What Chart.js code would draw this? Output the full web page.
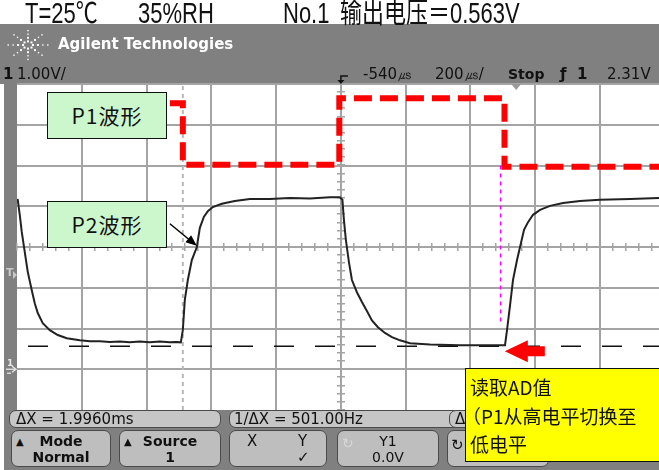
<!DOCTYPE html>
<html><head><meta charset="utf-8">
<script src="https://cdn.jsdelivr.net/npm/chart.js@4"></script>
<style>
html,body{margin:0;padding:0;overflow:hidden;background:#fff}
#wrap{position:relative;width:659px;height:470px;overflow:hidden}
canvas{position:absolute;left:0;top:0}
.t{position:absolute;white-space:nowrap}
.hdr{font-family:"Liberation Sans","Noto Sans CJK SC",sans-serif;font-size:22px;line-height:22px;color:#111;top:5px;transform:scaleY(1.3);transform-origin:0 18.6px}
.band{font-family:"DejaVu Sans",sans-serif;font-size:15px;line-height:16px;color:#111;top:66px}
.logo{font-family:"DejaVu Sans",sans-serif;font-weight:bold;font-size:15px;color:#fff;top:35px;left:58px}
.stat{position:absolute;top:410px;height:16px;background:#c6c6c6;border:1.5px solid #4a4a4a;border-radius:7px;font-family:"DejaVu Sans",sans-serif;font-size:15px;line-height:16px;color:#111;white-space:nowrap;overflow:hidden}
.btn{position:absolute;top:430px;height:35px;background:#bebebe;border:1.5px solid #4a4a4a;border-radius:7px;font-family:"DejaVu Sans",sans-serif;font-weight:bold;font-size:14px;line-height:16px;color:#111;text-align:center;white-space:nowrap;overflow:hidden}
.btn .l1{position:absolute;left:0;right:0;top:2px}
.btn .l2{position:absolute;left:0;right:0;top:18px}
.btn .tri{position:absolute;left:4px;top:3px;font-size:10px}
.green{position:absolute;left:47px;width:118px;height:45px;background:#ccf7cc;border:1.5px solid #111;font-family:"Noto Sans CJK SC",sans-serif;font-size:21px;letter-spacing:1px;line-height:45px;text-align:center;color:#111}
.yellow{position:absolute;left:465px;top:368px;width:200px;height:94px;background:#ffff00;border:1.5px solid #111;font-family:"Noto Sans CJK SC",sans-serif;font-size:19px;line-height:28.5px;color:#111;padding:4px 0 0 4px;box-sizing:border-box;white-space:nowrap}
</style></head>
<body>
<div id="wrap">
<canvas id="c" width="659" height="470" style="width:659px;height:470px"></canvas>

<div class="t hdr" style="left:25px">T=25℃</div>
<div class="t hdr" style="left:138px">35%RH</div>
<div class="t hdr" style="left:283px">No.1</div>
<div class="t hdr" style="left:340px">输出电压＝0.563V</div>

<div class="t logo">Agilent Technologies</div>
<div class="t band" style="left:3px;font-weight:bold">1</div>
<div class="t band" style="left:17px">1.00V/</div>
<div class="t band" style="left:363px">-540㎲</div>
<div class="t band" style="left:435px">200㎲/</div>
<div class="t band" style="left:508px;font-weight:bold;font-size:14px">Stop</div>
<div class="t band" style="left:560px;font-weight:bold">ƒ</div>
<div class="t band" style="left:577px;font-weight:bold">1</div>
<div class="t band" style="left:607px">2.31V</div>

<div class="stat" style="left:9px;width:210px"><span style="padding-left:6px">ΔX = 1.9960ms</span></div>
<div class="stat" style="left:229px;width:237px"><span style="padding-left:4px">1/ΔX = 501.00Hz</span></div>
<div class="stat" style="left:449px;width:200px"><span style="padding-left:5px">ΔY</span></div>

<div class="btn" style="left:11px;width:98px"><span class="tri">▲</span><div class="l1">Mode</div><div class="l2">Normal</div></div>
<div class="btn" style="left:119px;width:100px"><span class="tri">▲</span><div class="l1">Source</div><div class="l2">1</div></div>
<div class="btn" style="left:229px;width:96px;font-weight:normal;font-size:15px"><div class="l1"><span style="position:absolute;left:17px">X</span><span style="position:absolute;left:68px">Y</span></div><div class="l2"><span style="position:absolute;left:67px">✓</span></div></div>
<div class="btn" style="left:337px;width:100px;font-weight:normal;font-size:14px"><span style="position:absolute;left:4px;top:4px;color:#d8d8d8;font-size:14px">↻</span><div class="l1">Y1</div><div class="l2">0.0V</div></div>
<div class="btn" style="left:447px;width:100px;font-weight:normal;font-size:14px"><span style="position:absolute;left:3px;top:6px;font-size:15px">↻</span></div>

<div class="green" style="top:92px">P1波形</div>
<div class="green" style="top:201px">P2波形</div>
<div class="yellow">读取AD值<br><span style="margin-left:-8px">（P1从高电平切换至</span><br>低电平</div>
</div>

<script>
// ---- data (time in µs from left screen edge, voltage in V) ----
const p2Time = [2, 8.5, 14.7, 23.9, 33.2, 45.6, 54.8, 64.1, 79.5, 101.2, 125.9, 153.7,
  193.8, 224.7, 255.6, 286.5, 317.4, 348.3, 379.2, 410.0, 440.9, 471.8, 490.3, 505.8,
  511.9, 518.1, 527.4, 539.7, 555.2, 564.5, 576.8, 589.2, 604.6, 632.4, 672.6, 718.9, 780.7, 842.4, 904.2, 966.0, 996.9,
  1004.6, 1009.3, 1015.4, 1024.7, 1034.0, 1049.4, 1064.9, 1080.3, 1095.8, 1114.3, 1135.9, 1157.6, 1182.3, 1213.2, 1275.0, 1367.6, 1460.3, 1506.6,
  1512.8, 1522.1, 1531.3, 1543.7, 1553.0, 1565.3, 1577.7, 1593.1, 1614.8, 1645.6, 1685.8, 1738.3, 1800.1, 1892.8, 1982];
const p2Volt = [4.18, 3.79, 3.37, 2.88, 2.39, 1.94, 1.62, 1.38, 1.13, 0.96, 0.84, 0.76,
  0.71, 0.69, 0.69, 0.67, 0.68, 0.66, 0.68, 0.66, 0.68, 0.66, 0.67, 0.66,
  0.96, 1.70, 2.19, 2.68, 3.00, 3.47, 3.74, 3.88, 3.98, 4.06, 4.13, 4.18, 4.18, 4.20, 4.19, 4.22, 4.22,
  4.16, 3.66, 3.17, 2.63, 2.19, 1.89, 1.65, 1.43, 1.20, 1.03, 0.89, 0.79, 0.71, 0.64, 0.61, 0.59, 0.59, 0.59,
  0.96, 1.57, 2.19, 2.68, 3.00, 3.42, 3.61, 3.79, 3.91, 4.01, 4.08, 4.13, 4.16, 4.18, 4.20];

const p1Time = [472, 512, 512, 995, 995, 1505, 1505, 1982];
const p1Volt = [6.53, 6.53, 5.02, 5.02, 6.65, 6.65, 4.97, 4.97];

const levelTime = [0, 1982];
const levelVolt = [0.563, 0.563];       // measured output voltage cursor

const cursorTime = [512, 512];          // X1 cursor
const cursorVolt = [-1, 7];
const readTime = [1493, 1493];          // AD read moment
const readVolt = [5.0, 1.16];

const xRange = [0, 1982];   // µs shown on screen
const yRange = [-1, 7];     // V
const xStep = 200, yStep = 1;
const centerT = 1000, centerV = 3;
const trigLevel = 2.31, groundLevel = 0;
const trigMarkT = 1541;
const p2ArrowFrom = [472, 3.57], p2ArrowTo = [555, 3.03];
const readArrowTip = [1506, 0.44];

const BAND = '#808080';
const GRID = '#a4a4a4';

const pts = (xs, ys) => xs.map((x, i) => ({x, y: ys[i]}));
const stepValues = (lo, hi, step) => {
  const out = [];
  for (let v = lo; v <= hi + 1e-9; v += step) out.push(Math.round(v * 1e6) / 1e6);
  return out;
};

const bgPlugin = {
  id: 'bg',
  beforeDraw(chart) {
    const c = chart.ctx, a = chart.chartArea, W = chart.width, H = chart.height;
    c.save();
    c.fillStyle = '#fff'; c.fillRect(0, 0, W, H);
    c.fillStyle = BAND;
    c.fillRect(0, 24, W, a.top - 24);
    c.fillRect(4, a.top, a.left - 4, a.bottom - a.top);
    c.fillRect(4, a.bottom, W - 4, H - a.bottom);
    c.restore();
  },
  beforeDatasetsDraw(chart) {
    const c = chart.ctx, xs = chart.scales.x, ys = chart.scales.y, a = chart.chartArea;
    c.save();
    c.globalAlpha = 1;
    c.fillStyle = GRID;
    // crisp 2px division lines, positioned by the chart's scales
    stepValues(xRange[0], xRange[1], xStep).slice(1).forEach((t) => {
      const px = Math.round(xs.getPixelForValue(t));
      c.fillRect(px - 1, Math.round(a.top), 2, Math.round(a.bottom - a.top));
    });
    stepValues(yRange[0], yRange[1], yStep).slice(1).forEach((v) => {
      const py = Math.round(ys.getPixelForValue(v));
      c.fillRect(Math.round(a.left), py - 1, Math.round(a.right - a.left), 2);
    });
    // minor ticks on the centre cross
    const cx = Math.round(xs.getPixelForValue(centerT)), cy = Math.round(ys.getPixelForValue(centerV));
    for (let t = xRange[0]; t <= xRange[1]; t += xStep / 5) {
      const px = Math.round(xs.getPixelForValue(t));
      c.fillRect(px - 1, cy - 4, 1.5, 8);
    }
    for (let v = yRange[0]; v <= yRange[1] + 1e-6; v += yStep / 5) {
      const py = Math.round(ys.getPixelForValue(v));
      c.fillRect(cx - 4, py - 1, 8, 1.5);
    }
    c.restore();
  },
  afterDraw(chart) {
    const c = chart.ctx, xs = chart.scales.x, ys = chart.scales.y, a = chart.chartArea;
    c.save();
    // Agilent starburst logo
    c.fillStyle = '#fff';
    const lx = 28, ly = 45;
    for (let k = 0; k < 8; k++) {
      const ang = k * Math.PI / 4;
      for (let d = 1; d <= 4; d++) {
        const r = d * 4.5;
        const s = d < 3 ? 2 : 1.4;
        c.fillRect(lx + Math.cos(ang) * r * 1.1 - s / 2, ly + Math.sin(ang) * r * 0.8 - s / 2, s, s);
      }
    }
    // delay reference marker
    const cx = xs.getPixelForValue(centerT);
    c.strokeStyle = '#111'; c.fillStyle = '#111'; c.lineWidth = 1.5;
    c.beginPath(); c.moveTo(cx + 7, 76); c.lineTo(cx, 76); c.lineTo(cx, 81); c.stroke();
    c.beginPath(); c.moveTo(cx - 3.5, 80); c.lineTo(cx + 3.5, 80); c.lineTo(cx, 84); c.closePath(); c.fill();
    // trigger marker triangle
    const tx = xs.getPixelForValue(trigMarkT);
    c.fillStyle = '#9a9a9a';
    c.beginPath(); c.moveTo(tx - 5, a.top); c.lineTo(tx + 5, a.top); c.lineTo(tx, a.top + 6); c.closePath(); c.fill();
    // left strip markers
    c.fillStyle = '#c8c8c8'; c.strokeStyle = '#d8d8d8';
    c.font = 'bold 11px "DejaVu Sans"'; c.textBaseline = 'middle';
    const ty = ys.getPixelForValue(trigLevel);
    c.fillText('T', 6, ty - 2);
    c.beginPath(); c.moveTo(13, ty - 4); c.lineTo(17, ty); c.lineTo(13, ty + 4); c.closePath(); c.fill();
    const gy = ys.getPixelForValue(groundLevel);
    c.fillStyle = '#e6e6e6';
    c.font = 'bold 9px "DejaVu Sans"';
    c.fillText('1', 7, gy - 6);
    c.lineWidth = 1.3; c.strokeStyle = '#e6e6e6';
    c.beginPath(); c.moveTo(6, gy); c.lineTo(15, gy); c.stroke();
    c.beginPath(); c.moveTo(12, gy - 3); c.lineTo(16, gy); c.lineTo(12, gy + 3); c.stroke();
    c.beginPath(); c.moveTo(7, gy + 4); c.lineTo(11, gy + 4); c.stroke();
    // P2 label arrow
    const ax0 = xs.getPixelForValue(p2ArrowFrom[0]), ay0 = ys.getPixelForValue(p2ArrowFrom[1]);
    const ax1 = xs.getPixelForValue(p2ArrowTo[0]), ay1 = ys.getPixelForValue(p2ArrowTo[1]);
    const ang = Math.atan2(ay1 - ay0, ax1 - ax0);
    c.strokeStyle = '#000'; c.fillStyle = '#000'; c.lineWidth = 1.5;
    c.beginPath(); c.moveTo(ax0, ay0); c.lineTo(ax1 - Math.cos(ang) * 8, ay1 - Math.sin(ang) * 8); c.stroke();
    c.beginPath();
    c.moveTo(ax1, ay1);
    c.lineTo(ax1 - Math.cos(ang) * 11 + Math.sin(ang) * 4.5, ay1 - Math.sin(ang) * 11 - Math.cos(ang) * 4.5);
    c.lineTo(ax1 - Math.cos(ang) * 11 - Math.sin(ang) * 4.5, ay1 - Math.sin(ang) * 11 + Math.cos(ang) * 4.5);
    c.closePath(); c.fill();
    // red arrow pointing to AD read point
    const rx = xs.getPixelForValue(readArrowTip[0]), ry = ys.getPixelForValue(readArrowTip[1]);
    c.fillStyle = '#ff0000';
    c.beginPath();
    c.moveTo(rx, ry);
    c.lineTo(rx + 23, ry - 11);
    c.lineTo(rx + 23, ry - 5);
    c.lineTo(rx + 40, ry - 5);
    c.lineTo(rx + 40, ry + 5);
    c.lineTo(rx + 23, ry + 5);
    c.lineTo(rx + 23, ry + 11);
    c.closePath(); c.fill();
    c.restore();
  }
};

new Chart(document.getElementById('c'), {
  type: 'line',
  data: {
    datasets: [
      { label: 'P2', data: pts(p2Time, p2Volt), borderColor: '#222', borderWidth: 2, order: 1 },
      { label: 'P1', data: pts(p1Time, p1Volt), borderColor: '#ff0000', borderWidth: 6,
        borderDash: [18, 8], borderCapStyle: 'butt', borderJoinStyle: 'miter', order: 2 },
      { label: 'level', data: pts(levelTime, levelVolt), borderColor: '#111', borderWidth: 1.5,
        borderDash: [20, 21], borderDashOffset: 30, order: 3 },
      { label: 'read', data: pts(readTime, readVolt), borderColor: '#ff00ff', borderWidth: 1.5,
        borderDash: [4, 4], order: 4 },
      { label: 'cursor', data: pts(cursorTime, cursorVolt), borderColor: '#b8b8b8', borderWidth: 2,
        borderDash: [4, 4], order: 5 }
    ]
  },
  options: {
    responsive: false,
    animation: false,
    devicePixelRatio: 1,
    layout: { padding: { left: 17, right: 0, top: 84, bottom: 60 } },
    plugins: { legend: { display: false }, tooltip: { enabled: false } },
    elements: { point: { radius: 0, hoverRadius: 0 }, line: { tension: 0, fill: false } },
    scales: {
      x: { type: 'linear', min: xRange[0], max: xRange[1],
        ticks: { display: false, padding: 0, stepSize: xStep },
        grid: { display: false, drawTicks: false, tickLength: 0 },
        border: { display: false } },
      y: { type: 'linear', min: yRange[0], max: yRange[1],
        ticks: { display: false, padding: 0, stepSize: yStep },
        grid: { display: false, drawTicks: false, tickLength: 0 },
        border: { display: false } }
    }
  },
  plugins: [bgPlugin]
});
</script>
</body></html>
